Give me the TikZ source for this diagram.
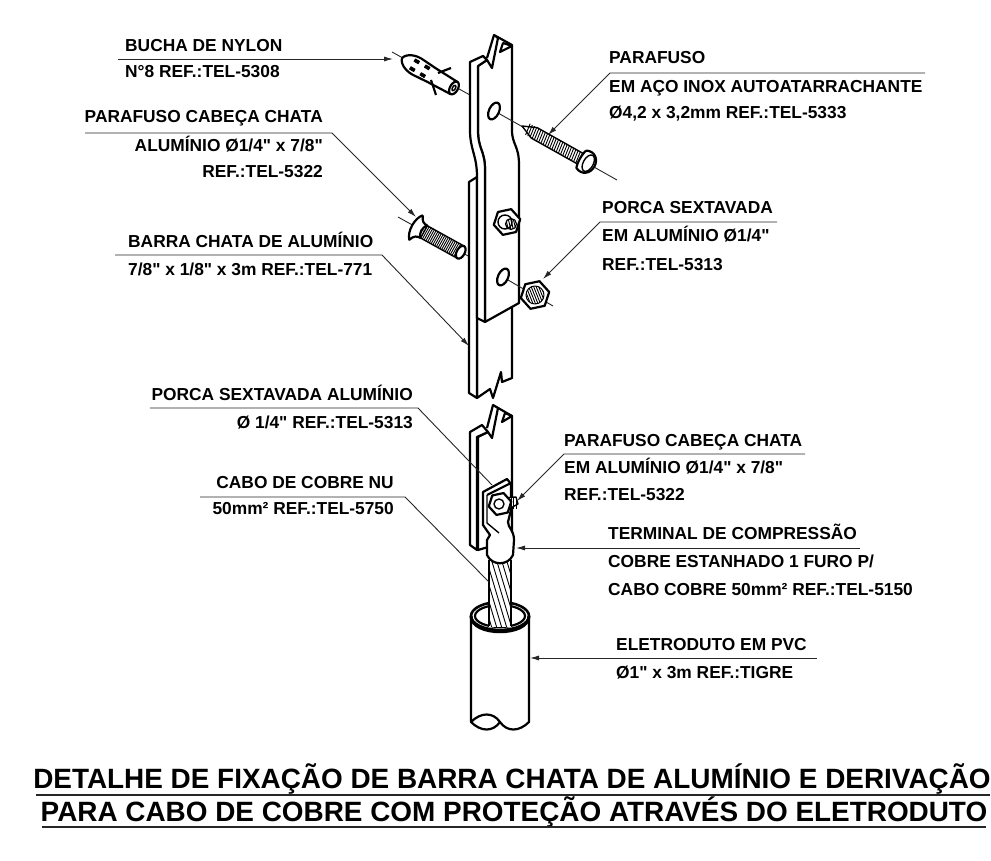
\documentclass[tikz,border=0pt]{standalone}
\usepackage{fontspec}
\setmainfont{Liberation Sans}[Ligatures=TeXOff]
\usetikzlibrary{arrows.meta,shapes.geometric}

\tikzset{
  rotulo/.style = {inner sep = 0pt, anchor = base west, font = \fontsize{17.35}{20}\selectfont\bfseries},
  rotulod/.style = {rotulo, anchor = base east},
  titulo/.style = {inner sep = 0pt, anchor = base, font = \fontsize{27.9}{30}\selectfont\bfseries},
  peca/.style = {draw = black, line width = 2.2pt, fill = white, line join = round},
  fino/.style = {draw = black, line width = .9pt},
  guia/.style = {draw = black!85, line width = .9pt},
  seta/.style = {guia, -{Latex[length = 9pt, width = 5pt]}},
  porca/.style = {peca, shape = regular polygon, regular polygon sides = 6, inner sep = 0pt}
}

\begin{document}
\begin{tikzpicture}[x = 1pt, y = -1pt]
  \useasboundingbox (0,0) rectangle (991,861);

  \coordinate (a1) at (392,52);
  \coordinate (a2) at (470,95);
  \coordinate (a3) at (498,113);
  \coordinate (a4) at (617,180);
  \coordinate (a5) at (398,217);
  \coordinate (a6) at (470,257);
  \coordinate (a7) at (508,280);
  \coordinate (a8) at (553,306);
  \draw[guia] (a1) -- (a2);
  \draw[guia] (a5) -- (a6);

  % barra de baixo
  \draw[peca] (477,177) -- (477,398) -- (490,389) -- (493,398) -- (501,372) -- (502,382) -- (512,378) -- (512,300) -- (490,300) -- (490,177) -- cycle;
  \draw[peca] (469,182) -- (477,177) -- (477,398) -- (469,393) -- cycle;

  % barra de cima
  \draw[peca] (478,66) -- (487,60) -- (492,68) -- (498,38) -- (494,35) -- (512,45) -- (512,130) .. controls (512,145) and (519,145) .. (519,165) -- (519,303) -- (485,322) -- (485,170) .. controls (485,150) and (478,150) .. (478,130) -- cycle;
  \draw[peca] (470,62) -- (483,56) -- (487,60) -- (478,66) -- (478,130) .. controls (478,150) and (485,150) .. (485,170) -- (485,322) -- (477,318) -- (477,177) .. controls (477,155) and (470,150) .. (470,130) -- cycle;
  \draw[peca] (494,35) -- (487,58);
  \draw[peca] (500,52) -- (503,43) -- (512,46) -- cycle;
  \draw[guia] (a3) -- (a4);
  \draw[guia] (a7) -- (a8);
  \draw[peca, rotate around = {-25:(494,111)}] (494,111) ellipse [x radius = 5, y radius = 9];
  \draw[peca, rotate around = {-25:(503,277)}] (503,277) ellipse [x radius = 5, y radius = 9];

  % bucha
  \begin{scope}[shift = {(402,58)}, rotate = -30]
    \draw[peca] (0,0) .. controls (2,-7) and (12,-10) .. (20,-9) -- (34,-8) -- (60,-7) -- (60,7) -- (34,8) -- (20,9) .. controls (12,10) and (2,7) .. (0,0);
    \draw[peca] (60,0) ellipse [x radius = 4, y radius = 7];
    \draw[peca, line width = 1.5pt] (60,0) ellipse [x radius = 1.5, y radius = 3];
    \foreach \x in {12,24} {
      \draw[peca, fill = black, line width = .6pt] (\x,-6) rectangle (\x+5,-3);
      \draw[peca, fill = black, line width = .6pt] (\x,3) rectangle (\x+5,6);
    }
  \end{scope}
  \draw[peca] (438,73) -- (451,68);
  \draw[peca] (431,80) -- (436,95);

  % parafuso autoatarrachante
  \begin{scope}[shift = {(522,126)}, rotate = -29.3]
    \draw[peca, line width = 1.4pt] (0,0) -- (14,-6) -- (68,-6) -- (68,6) -- (14,6) -- cycle;
    \foreach \x in {6,8.5,...,66} {
      \draw[fino] (\x,-6) -- (\x+1.5,6);
    }
    \draw[peca] (68,-10) .. controls (76,-14) and (83,-8) .. (83,0) .. controls (83,8) and (76,14) .. (68,10) .. controls (66,5) and (66,-5) .. (68,-10);
    \draw[peca, line width = 1.4pt] (76,0) ellipse [x radius = 5, y radius = 9];
  \end{scope}

  % parafuso cabeca chata
  \begin{scope}[shift = {(417,228)}, rotate = -29]
    \draw[peca, line width = 1.4pt] (8,-7) -- (50,-7) -- (50,7) -- (8,7) -- cycle;
    \foreach \x in {10,12,...,48} {
      \draw[fino] (\x,-7) -- (\x,7);
    }
    \draw[peca] (50,0) ellipse [x radius = 4, y radius = 7];
    \draw[peca] (-1,-14) .. controls (-7,-8) and (-7,8) .. (-1,14) .. controls (1,8) and (4,7) .. (8,7) .. controls (4,4) and (4,-4) .. (8,-7) .. controls (4,-7) and (1,-8) .. (-1,-14);
  \end{scope}

  % porcas da barra
  \node (P1) at (507,222) [porca, minimum size = 27pt, rotate = 12] {};
  \draw[peca, line width = 1.4pt] (505,222) circle (7);
  \begin{scope}
    \clip (511,224) circle (5.5);
    \foreach \x in {500,502.5,...,520} {
      \draw[fino] (\x,216) -- (\x+4,232);
    }
  \end{scope}
  \draw[peca, fill = none, line width = 1.2pt] (511,224) circle (5.5);
  \node (P2) at (535,295) [porca, minimum size = 29pt, rotate = 12] {};
  \begin{scope}
    \clip (535,295) circle (9);
    \foreach \x in {518,520.5,...,552} {
      \draw[fino] (\x,285) -- (\x+8,305);
    }
  \end{scope}
  \draw[peca, fill = none, line width = 1pt] (535,295) circle (9);

  % trecho de baixo
  \draw[peca] (478,437) -- (488,432) -- (492,438) -- (498,408) -- (493,405) -- (512,416) -- (512,540) -- (478,550) -- cycle;
  \draw[peca] (470,432) -- (482,425) -- (488,432) -- (477,437) -- (477,550) -- (470,545) -- cycle;
  \draw[peca] (493,405) -- (487,428);
  \draw[peca] (502,422) -- (505,413) -- (512,416) -- cycle;

  % eletroduto e cabo
  \draw[peca, line width = 2.6pt] (500,616) ellipse [x radius = 29, y radius = 14];
  \draw[peca] (471,616) -- (471,722) .. controls (481,712) and (493,712) .. (500,722) .. controls (507,732) and (519,732) .. (529,722) -- (529,616) .. controls (529,635) and (471,635) .. (471,616);
  \draw[peca] (471,722) .. controls (481,732) and (493,732) .. (500,722);
  \draw[peca] (500,616) ellipse [x radius = 25, y radius = 11];
  \draw[peca, fill = none, line width = 3pt] (471,616) .. controls (471,637) and (529,637) .. (529,616);
  \begin{scope}
    \clip (489,560) -- (511,560) -- (511,626) -- (489,626) -- cycle;
    \fill[white] (489,560) rectangle (511,630);
    \foreach \x in {450,455,...,510} {
      \draw[fino] (\x,555) -- (\x+24,635);
    }
  \end{scope}
  \draw[peca, fill = none] (489,560) -- (489,626);
  \draw[peca, fill = none] (511,560) -- (511,626);

  % terminal
  \draw[peca] (483,492) -- (483,525) -- (490,535) -- (487,540) -- (487,555) .. controls (492,566) and (508,566) .. (513,555) -- (514,540) .. controls (514,530) and (508,528) .. (508,522) -- (511,510) -- (511,484) -- (507,479) -- cycle;
  \draw[peca, fill = none] (487,495) -- (511,483);
  \draw[peca, fill = none, line width = 1.4pt] (487,495) -- (487,523) -- (499,533);
  \draw[peca, line width = 1.4pt] (503,498) -- (516,497) -- (518,504) -- (505,511) -- cycle;
  \foreach \x in {506,508.5,...,516} {
    \draw[fino] (\x,497) -- (\x,509);
  }
  \node (P3) at (500,504) [porca, minimum size = 23pt, rotate = 12] {};
  \draw[peca, line width = 1.4pt] (499,504) circle (5);

  % linhas de chamada
  \coordinate (b1) at (118,59);
  \coordinate (b2) at (393,59);
  \draw[seta] (b1) -- (b2);

  \coordinate (c1) at (925,73);
  \coordinate (c2) at (610,73);
  \coordinate (c3) at (548,135);
  \draw[seta] (c1) -- (c2) -- (c3);

  \coordinate (d1) at (85,133);
  \coordinate (d2) at (332,133);
  \coordinate (d3) at (416,217);
  \draw[seta] (d1) -- (d2) -- (d3);

  \coordinate (e1) at (115,255);
  \coordinate (e2) at (382,255);
  \coordinate (e3) at (469,346);
  \draw[seta] (e1) -- (e2) -- (e3);

  \coordinate (f1) at (777,222);
  \coordinate (f2) at (600,222);
  \coordinate (f3) at (543,279);
  \draw[seta] (f1) -- (f2) -- (f3);

  \coordinate (g1) at (150,408);
  \coordinate (g2) at (418,408);
  \coordinate (g3) at (492,485);
  \draw[guia] (g1) -- (g2) -- (g3);

  \coordinate (h1) at (200,497);
  \coordinate (h2) at (405,497);
  \coordinate (h3) at (489,582);
  \draw[guia] (h1) -- (h2) -- (h3);

  \coordinate (i1) at (805,454);
  \coordinate (i2) at (564,454);
  \coordinate (i3) at (517,501);
  \draw[seta] (i1) -- (i2) -- (i3);

  \coordinate (j1) at (860,548);
  \coordinate (j2) at (516,548);
  \draw[seta] (j1) -- (j2);

  \coordinate (k1) at (817,658);
  \coordinate (k2) at (530,658);
  \draw[seta] (k1) -- (k2);

  \node (B1) at (125,52) [rotulo] {BUCHA DE NYLON};
  \node (B2) at (125,78) [rotulo] {N°8 REF.:TEL-5308};
  \node (C1) at (609,64) [rotulo] {PARAFUSO};
  \node (C2) at (609,93) [rotulo] {EM AÇO INOX AUTOATARRACHANTE};
  \node (C3) at (609,119) [rotulo] {Ø4,2 x 3,2mm REF.:TEL-5333};
  \node (D1) at (323,123) [rotulod] {PARAFUSO CABEÇA CHATA};
  \node (D2) at (323,152) [rotulod] {ALUMÍNIO Ø1/4" x 7/8"};
  \node (D3) at (323,178) [rotulod] {REF.:TEL-5322};
  \node (E1) at (128,248) [rotulo] {BARRA CHATA DE ALUMÍNIO};
  \node (E2) at (128,276) [rotulo] {7/8" x 1/8" x 3m REF.:TEL-771};
  \node (F1) at (602,214) [rotulo] {PORCA SEXTAVADA};
  \node (F2) at (602,242) [rotulo] {EM ALUMÍNIO Ø1/4"};
  \node (F3) at (602,270) [rotulo] {REF.:TEL-5313};
  \node (G1) at (413,400) [rotulod] {PORCA SEXTAVADA ALUMÍNIO};
  \node (G2) at (413,428) [rotulod] {Ø 1/4" REF.:TEL-5313};
  \node (H1) at (394,488) [rotulod] {CABO DE COBRE NU};
  \node (H2) at (394,514) [rotulod] {50mm² REF.:TEL-5750};
  \node (I1) at (564,446) [rotulo] {PARAFUSO CABEÇA CHATA};
  \node (I2) at (564,473) [rotulo] {EM ALUMÍNIO Ø1/4" x 7/8"};
  \node (I3) at (564,500) [rotulo] {REF.:TEL-5322};
  \node (J1) at (608,539) [rotulo] {TERMINAL DE COMPRESSÃO};
  \node (J2) at (608,567) [rotulo] {COBRE ESTANHADO 1 FURO P/};
  \node (J3) at (608,595) [rotulo] {CABO COBRE 50mm² REF.:TEL-5150};
  \node (K1) at (616,650) [rotulo] {ELETRODUTO EM PVC};
  \node (K2) at (616,678) [rotulo] {Ø1" x 3m REF.:TIGRE};

  \node (T1) at (512,788) [titulo] {DETALHE DE FIXAÇÃO DE BARRA CHATA DE ALUMÍNIO E DERIVAÇÃO};
  \node (T2) at (514,821) [titulo] {PARA CABO DE COBRE COM PROTEÇÃO ATRAVÉS DO ELETRODUTO};
  \coordinate (t1) at (36,795);
  \coordinate (t2) at (990,795);
  \coordinate (t3) at (42,827);
  \coordinate (t4) at (986,827);
  \draw[guia, line width = 1.3pt] (t1) -- (t2);
  \draw[guia, line width = 1.3pt] (t3) -- (t4);
\end{tikzpicture}
\end{document}
